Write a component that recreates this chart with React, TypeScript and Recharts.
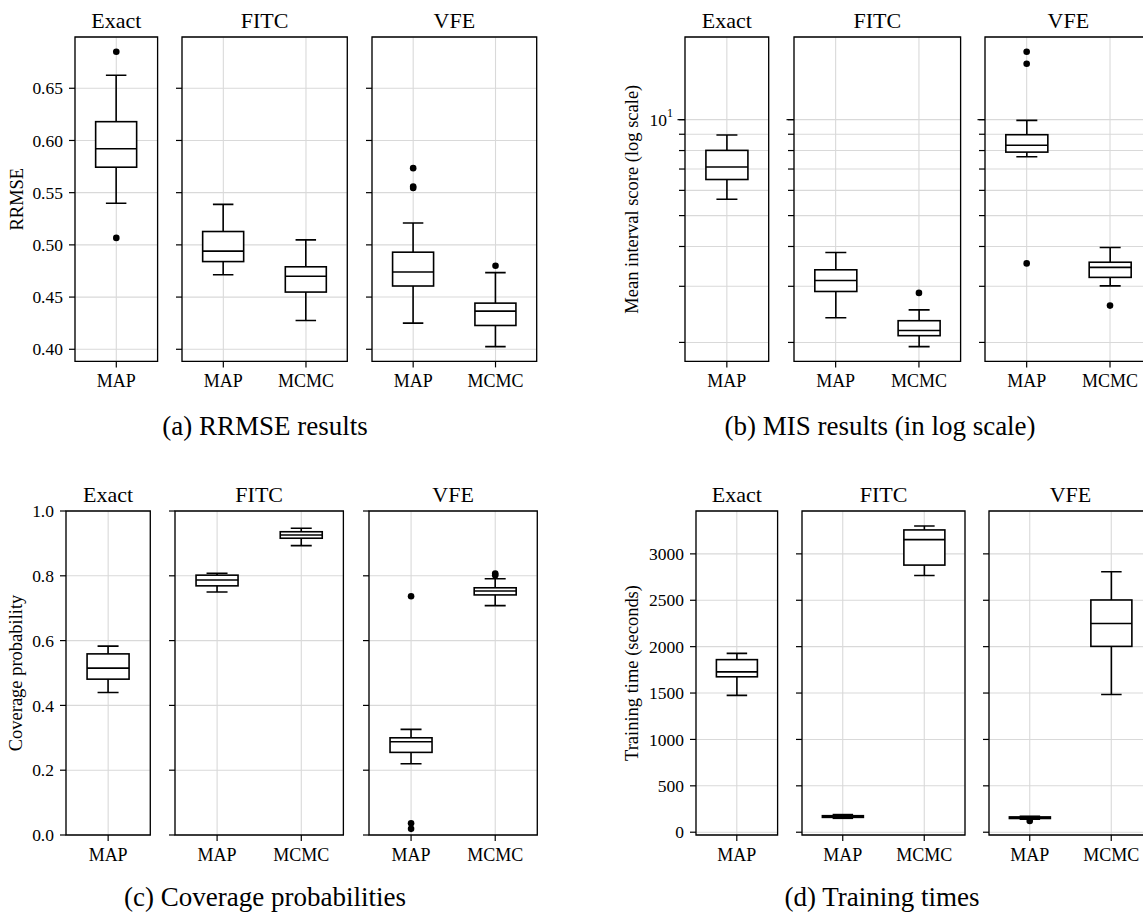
import React from 'react';
import { ComposedChart, Bar, Scatter, XAxis, YAxis, CartesianGrid, ReferenceArea } from 'recharts';

type BoxStat = { method: string; lo: number; q1: number; med: number; q3: number; hi: number };
type Outlier = { method: string; v: number };

// ---------- (a) RRMSE ----------
const rrmseExact: BoxStat[] = [{ method: 'MAP', lo: 0.5398, q1: 0.5744, med: 0.592, q3: 0.618, hi: 0.6625 }];
const rrmseExactOut: Outlier[] = [{ method: 'MAP', v: 0.685 }, { method: 'MAP', v: 0.5067 }];
const rrmseFitc: BoxStat[] = [
  { method: 'MAP', lo: 0.4714, q1: 0.484, med: 0.494, q3: 0.5128, hi: 0.5388 },
  { method: 'MCMC', lo: 0.4276, q1: 0.4548, med: 0.47, q3: 0.479, hi: 0.5048 },
];
const rrmseFitcOut: Outlier[] = [];
const rrmseVfe: BoxStat[] = [
  { method: 'MAP', lo: 0.425, q1: 0.4606, med: 0.474, q3: 0.493, hi: 0.521 },
  { method: 'MCMC', lo: 0.4025, q1: 0.4228, med: 0.4365, q3: 0.4442, hi: 0.4734 },
];
const rrmseVfeOut: Outlier[] = [
  { method: 'MAP', v: 0.5735 }, { method: 'MAP', v: 0.5558 }, { method: 'MAP', v: 0.5545 },
  { method: 'MCMC', v: 0.48 },
];
const rrmseTicks = [0.4, 0.45, 0.5, 0.55, 0.6, 0.65];
const rrmseDomain: [number, number] = [0.3884, 0.6991];

// ---------- (b) MIS (log) ----------
const misExact: BoxStat[] = [{ method: 'MAP', lo: 5.63, q1: 6.49, med: 7.1, q3: 8.01, hi: 8.95 }];
const misExactOut: Outlier[] = [];
const misFitc: BoxStat[] = [
  { method: 'MAP', lo: 2.39, q1: 2.89, med: 3.13, q3: 3.38, hi: 3.83 },
  { method: 'MCMC', lo: 1.94, q1: 2.1, med: 2.18, q3: 2.34, hi: 2.53 },
];
const misFitcOut: Outlier[] = [{ method: 'MCMC', v: 2.86 }];
const misVfe: BoxStat[] = [
  { method: 'MAP', lo: 7.65, q1: 7.91, med: 8.31, q3: 8.97, hi: 9.95 },
  { method: 'MCMC', lo: 3.01, q1: 3.2, med: 3.44, q3: 3.57, hi: 3.97 },
];
const misVfeOut: Outlier[] = [
  { method: 'MAP', v: 16.33 }, { method: 'MAP', v: 14.97 }, { method: 'MAP', v: 3.54 },
  { method: 'MCMC', v: 2.61 },
];
const misTicks = [2, 3, 4, 5, 6, 7, 8, 9, 10];
const misDomain: [number, number] = [1.744, 18.17];

// ---------- (c) Coverage ----------
const covExact: BoxStat[] = [{ method: 'MAP', lo: 0.44, q1: 0.481, med: 0.515, q3: 0.559, hi: 0.583 }];
const covExactOut: Outlier[] = [];
const covFitc: BoxStat[] = [
  { method: 'MAP', lo: 0.75, q1: 0.769, med: 0.787, q3: 0.802, hi: 0.808 },
  { method: 'MCMC', lo: 0.893, q1: 0.916, med: 0.926, q3: 0.936, hi: 0.947 },
];
const covFitcOut: Outlier[] = [];
const covVfe: BoxStat[] = [
  { method: 'MAP', lo: 0.22, q1: 0.255, med: 0.288, q3: 0.3, hi: 0.326 },
  { method: 'MCMC', lo: 0.708, q1: 0.741, med: 0.753, q3: 0.763, hi: 0.791 },
];
const covVfeOut: Outlier[] = [
  { method: 'MAP', v: 0.737 }, { method: 'MAP', v: 0.036 }, { method: 'MAP', v: 0.019 },
  { method: 'MCMC', v: 0.807 }, { method: 'MCMC', v: 0.802 },
];
const covTicks = [0, 0.2, 0.4, 0.6, 0.8, 1.0];
const covDomain: [number, number] = [0, 1];

// ---------- (d) Training time ----------
const timeExact: BoxStat[] = [{ method: 'MAP', lo: 1475, q1: 1675, med: 1728, q3: 1860, hi: 1928 }];
const timeExactOut: Outlier[] = [];
const timeFitc: BoxStat[] = [
  { method: 'MAP', lo: 150, q1: 160, med: 168, q3: 178, hi: 190 },
  { method: 'MCMC', lo: 2767, q1: 2879, med: 3154, q3: 3258, hi: 3301 },
];
const timeFitcOut: Outlier[] = [];
const timeVfe: BoxStat[] = [
  { method: 'MAP', lo: 140, q1: 148, med: 155, q3: 165, hi: 172 },
  { method: 'MCMC', lo: 1485, q1: 2003, med: 2249, q3: 2503, hi: 2807 },
];
const timeVfeOut: Outlier[] = [{ method: 'MAP', v: 122 }];
const timeTicks = [0, 500, 1000, 1500, 2000, 2500, 3000];
const timeDomain: [number, number] = [-30, 3462];

const SERIF = "'Liberation Serif', 'DejaVu Serif', 'Times New Roman', serif";
const INK = '#000';
const GRID = '#d9d9d9';
const BOX_W = 1.6;

function norm(p: any) {
  const top = Math.min(p.y, p.y + p.height);
  const bottom = Math.max(p.y, p.y + p.height);
  return { x: p.x, w: p.width, top, bottom };
}

function WhiskerShape(p: any) {
  const { x, w, top, bottom } = norm(p);
  const cx = x + w / 2;
  const half = w / 4;
  return (
    <g>
      <line x1={cx} x2={cx} y1={top} y2={bottom} stroke={INK} strokeWidth={BOX_W} />
      <line x1={cx - half} x2={cx + half} y1={top} y2={top} stroke={INK} strokeWidth={BOX_W} />
      <line x1={cx - half} x2={cx + half} y1={bottom} y2={bottom} stroke={INK} strokeWidth={BOX_W} />
    </g>
  );
}

function BoxShape(p: any) {
  const { x, w, top, bottom } = norm(p);
  return <rect x={x} y={top} width={w} height={Math.max(bottom - top, 0.01)} fill="#fff" stroke={INK} strokeWidth={BOX_W} />;
}

function MedianShape(p: any) {
  const { x, w, top } = norm(p);
  return <line x1={x} x2={x + w} y1={top} y2={top} stroke={INK} strokeWidth={BOX_W} />;
}

function OutlierShape(p: any) {
  if (p.cx == null || p.cy == null) return null;
  return <circle cx={p.cx} cy={p.cy} r={3.3} fill={INK} />;
}

const TICK_SIZE = 6;
const TICK_MARGIN = 6;

function LogTick(p: any) {
  const { x, y, payload, showLabel } = p;
  const axisX = x + TICK_SIZE + TICK_MARGIN;
  const major = payload && payload.value === 10;
  return (
    <g>
      {major && <line x1={axisX - 7.5} x2={axisX} y1={y} y2={y} stroke={INK} strokeWidth={1.2} />}
      {showLabel && major && (
        <text x={axisX - 12} y={y} textAnchor="end" dominantBaseline="central" fontSize={17.5} fill={INK} fontFamily={SERIF}>
          10<tspan dy={-7} fontSize={12}>1</tspan>
        </text>
      )}
    </g>
  );
}

type SubplotProps = {
  title: string;
  data: BoxStat[];
  outliers: Outlier[];
  left: number;
  top: number;
  plotW: number;
  plotH: number;
  domain: [number, number];
  ticks: number[];
  log?: boolean;
  showLabels: boolean;
  yLabel?: string;
  yLabelDx?: number;
  fmt?: (v: number) => string;
};

function Subplot(props: SubplotProps) {
  const { title, data, outliers, left, top, plotW, plotH, domain, ticks, log, showLabels, yLabel, yLabelDx, fmt } = props;
  const W = showLabels ? 80 : 10;
  const T = 40;
  const B = 45;
  const R = 4;
  const yLabelProp = yLabel
    ? {
        content: (lp: any) => {
          const vb = lp.viewBox || {};
          const px = vb.x + vb.width - (yLabelDx || 55);
          const cy = vb.y + vb.height / 2;
          return (
            <text x={px} y={cy} transform={`rotate(-90 ${px} ${cy})`} textAnchor="middle" dominantBaseline="central" fontSize={18.5} fill={INK} fontFamily={SERIF}>
              {yLabel}
            </text>
          );
        },
      }
    : undefined;
  return (
    <div style={{ position: 'absolute', left: left - W, top: top - T }}>
      <ComposedChart
        width={W + plotW + R}
        height={T + plotH + B}
        data={data}
        margin={{ top: T, right: R, bottom: 0, left: 0 }}
        barCategoryGap="25%"
      >
        <CartesianGrid stroke={GRID} strokeWidth={1.1} />
        <XAxis
          dataKey="method"
          type="category"
          allowDuplicatedCategory={false}
          height={B}
          interval={0}
          tickSize={TICK_SIZE}
          tickMargin={7}
          axisLine={false}
          tickLine={{ stroke: INK, strokeWidth: 1.2 }}
          tick={{ fontSize: 18, fill: INK, fontFamily: SERIF }}
        />
        <XAxis xAxisId="w" dataKey="method" type="category" hide />
        <XAxis xAxisId="m" dataKey="method" type="category" hide />
        {log ? (
          <YAxis
            type="number"
            scale="log"
            domain={domain}
            ticks={ticks}
            allowDataOverflow
            width={W}
            tickSize={TICK_SIZE}
            tickMargin={TICK_MARGIN}
            axisLine={false}
            tickLine={{ stroke: INK, strokeWidth: 1.2 }}
            tick={<LogTick showLabel={showLabels} />}
            interval={0}
            label={yLabelProp as any}
          />
        ) : (
          <YAxis
            type="number"
            domain={domain}
            ticks={ticks}
            allowDataOverflow
            width={W}
            tickSize={TICK_SIZE}
            tickMargin={TICK_MARGIN}
            axisLine={false}
            tickLine={{ stroke: INK, strokeWidth: 1.2 }}
            tick={{ fontSize: 17.5, fill: INK, fontFamily: SERIF }}
            tickFormatter={(v: number) => (showLabels && fmt ? fmt(v) : '')}
            interval={0}
            label={yLabelProp as any}
          />
        )}
        <ReferenceArea
          y1={domain[0]}
          y2={domain[1]}
          fill="none"
          fillOpacity={0}
          stroke={INK}
          strokeWidth={1.3}
          ifOverflow="visible"
          label={{ value: title, position: 'top', offset: 9, fontSize: 22, fill: INK, fontFamily: SERIF } as any}
        />
        <Bar xAxisId="w" dataKey={(d: BoxStat) => [d.lo, d.hi]} shape={WhiskerShape} isAnimationActive={false} />
        <Bar dataKey={(d: BoxStat) => [d.q1, d.q3]} shape={BoxShape} isAnimationActive={false} />
        <Bar xAxisId="m" dataKey={(d: BoxStat) => [d.q1, d.med]} shape={MedianShape} isAnimationActive={false} />
        <Scatter data={outliers} dataKey="v" shape={OutlierShape} isAnimationActive={false} />
      </ComposedChart>
    </div>
  );
}

const fmt2 = (v: number) => v.toFixed(2);
const fmt1 = (v: number) => v.toFixed(1);
const fmt0 = (v: number) => String(Math.round(v));

export default function App() {
  const rowA = 37.3;
  const rowC = 511;
  const hA = 324.4;
  const hC = 324;
  return (
    <div style={{ position: 'absolute', left: 0, top: 0, width: 1143, height: 913, overflow: 'hidden', background: '#fff', fontFamily: SERIF }}>
      {/* (a) */}
      <Subplot title="Exact" data={rrmseExact} outliers={rrmseExactOut} left={74.7} top={rowA} plotW={82.6} plotH={hA} domain={rrmseDomain} ticks={rrmseTicks} showLabels fmt={fmt2} yLabel="RRMSE" yLabelDx={58.2} />
      <Subplot title="FITC" data={rrmseFitc} outliers={rrmseFitcOut} left={182} top={rowA} plotW={165.3} plotH={hA} domain={rrmseDomain} ticks={rrmseTicks} showLabels={false} />
      <Subplot title="VFE" data={rrmseVfe} outliers={rrmseVfeOut} left={372} top={rowA} plotW={164.7} plotH={hA} domain={rrmseDomain} ticks={rrmseTicks} showLabels={false} />
      {/* (b) */}
      <Subplot title="Exact" data={misExact} outliers={misExactOut} left={685.3} top={rowA} plotW={83.7} plotH={hA} domain={misDomain} ticks={misTicks} log showLabels yLabel="Mean interval score (log scale)" yLabelDx={53.3} />
      <Subplot title="FITC" data={misFitc} outliers={misFitcOut} left={793.7} top={rowA} plotW={166.6} plotH={hA} domain={misDomain} ticks={misTicks} log showLabels={false} />
      <Subplot title="VFE" data={misVfe} outliers={misVfeOut} left={985} top={rowA} plotW={166.7} plotH={hA} domain={misDomain} ticks={misTicks} log showLabels={false} />
      {/* (c) */}
      <Subplot title="Exact" data={covExact} outliers={covExactOut} left={66} top={rowC} plotW={84.3} plotH={hC} domain={covDomain} ticks={covTicks} showLabels fmt={fmt1} yLabel="Coverage probability" yLabelDx={50.2} />
      <Subplot title="FITC" data={covFitc} outliers={covFitcOut} left={175.3} top={rowC} plotW={168.4} plotH={hC} domain={covDomain} ticks={covTicks} showLabels={false} />
      <Subplot title="VFE" data={covVfe} outliers={covVfeOut} left={368.7} top={rowC} plotW={168.3} plotH={hC} domain={covDomain} ticks={covTicks} showLabels={false} />
      {/* (d) */}
      <Subplot title="Exact" data={timeExact} outliers={timeExactOut} left={695.7} top={rowC} plotW={81.6} plotH={hC} domain={timeDomain} ticks={timeTicks} showLabels fmt={fmt0} yLabel="Training time (seconds)" yLabelDx={63.7} />
      <Subplot title="FITC" data={timeFitc} outliers={timeFitcOut} left={801.7} top={rowC} plotW={163} plotH={hC} domain={timeDomain} ticks={timeTicks} showLabels={false} />
      <Subplot title="VFE" data={timeVfe} outliers={timeVfeOut} left={989.3} top={rowC} plotW={163} plotH={hC} domain={timeDomain} ticks={timeTicks} showLabels={false} />

      <svg width={1143} height={913} style={{ position: 'absolute', left: 0, top: 0, pointerEvents: 'none' }}>
        <g fontFamily={SERIF} fontSize={27} fill={INK} textAnchor="middle">
          <text x={265} y={435}>(a) RRMSE results</text>
          <text x={880} y={435}>(b) MIS results (in log scale)</text>
          <text x={265} y={906}>(c) Coverage probabilities</text>
          <text x={882} y={906}>(d) Training times</text>
        </g>
      </svg>
    </div>
  );
}
